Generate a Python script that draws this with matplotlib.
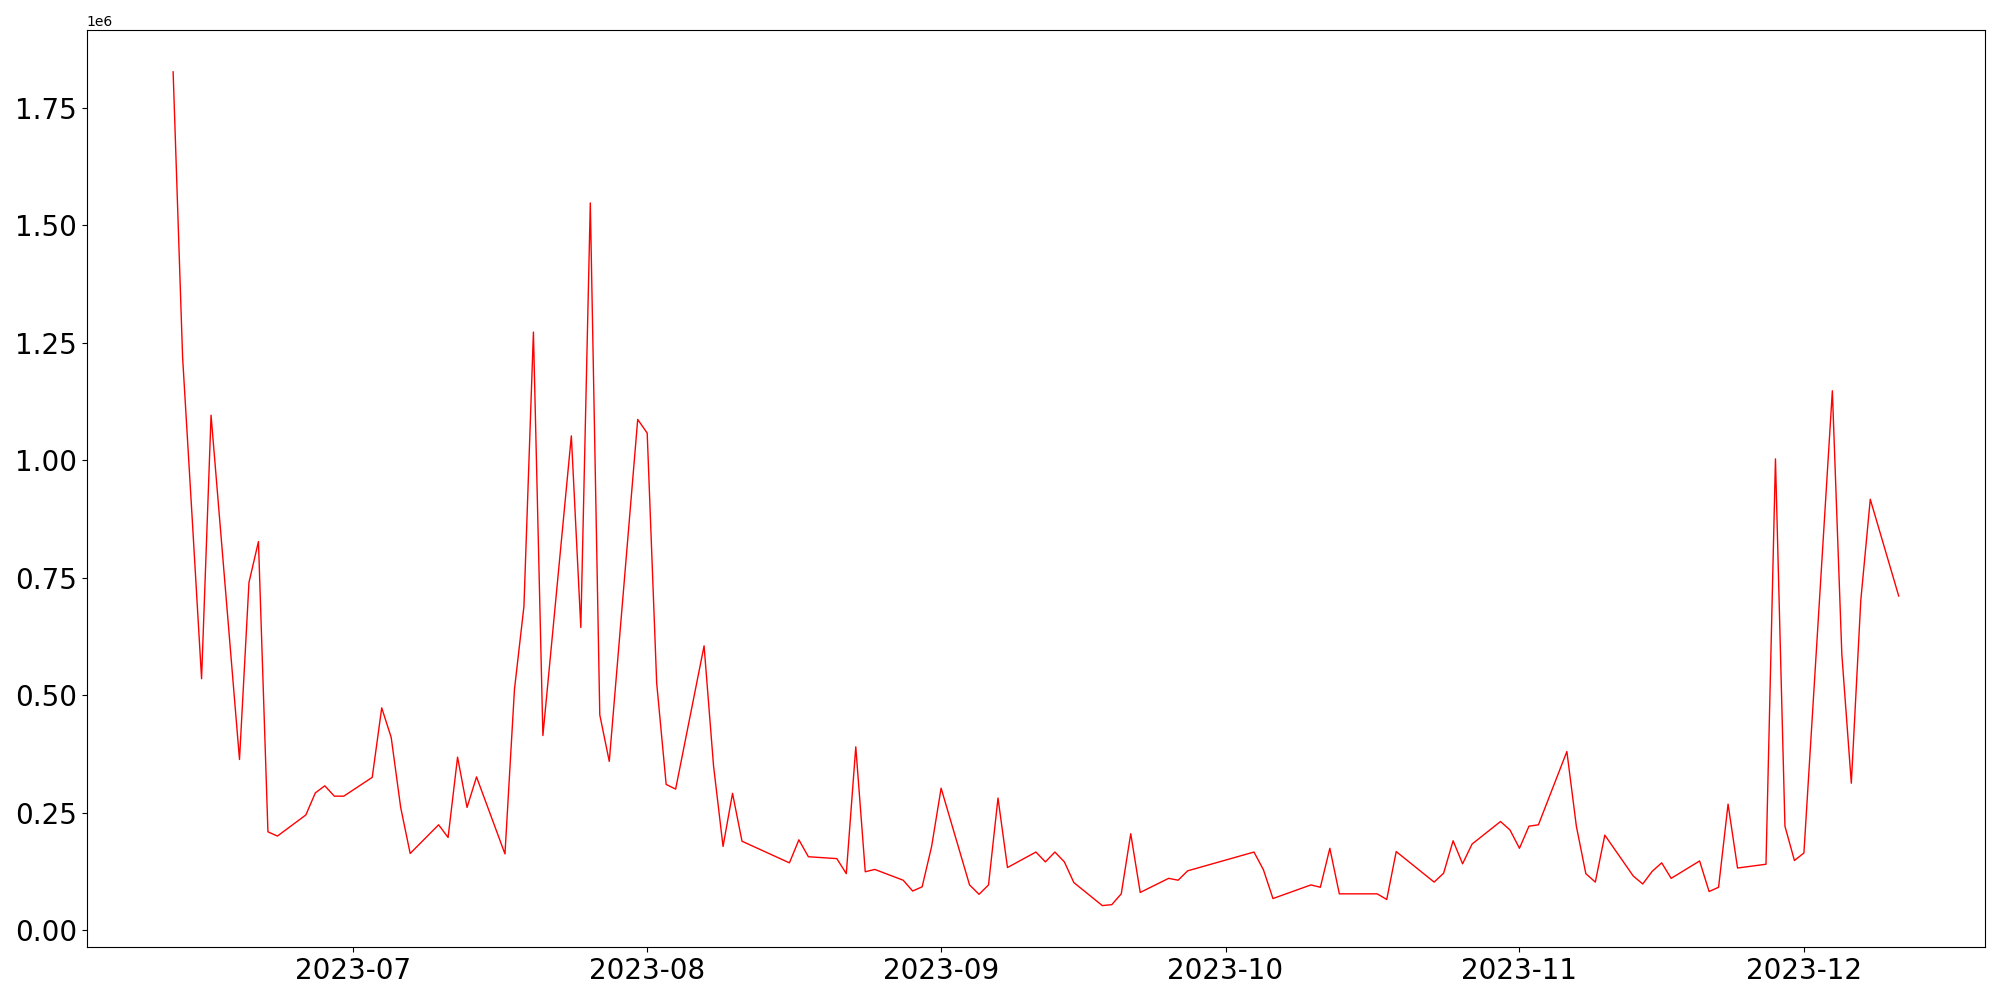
import pandas as pd
import matplotlib
matplotlib.use('Agg')
import matplotlib.pyplot as plt

# trading days (weekdays) and daily values
dates = ['2023-06-12', '2023-06-13', '2023-06-14', '2023-06-15', '2023-06-16',
         '2023-06-19', '2023-06-20', '2023-06-21', '2023-06-22', '2023-06-23',
         '2023-06-26', '2023-06-27', '2023-06-28', '2023-06-29', '2023-06-30',
         '2023-07-03', '2023-07-04', '2023-07-05', '2023-07-06', '2023-07-07',
         '2023-07-10', '2023-07-11', '2023-07-12', '2023-07-13', '2023-07-14',
         '2023-07-17', '2023-07-18', '2023-07-19', '2023-07-20', '2023-07-21',
         '2023-07-24', '2023-07-25', '2023-07-26', '2023-07-27', '2023-07-28',
         '2023-07-31', '2023-08-01', '2023-08-02', '2023-08-03', '2023-08-04',
         '2023-08-07', '2023-08-08', '2023-08-09', '2023-08-10', '2023-08-11',
         '2023-08-16', '2023-08-17', '2023-08-18',
         '2023-08-21', '2023-08-22', '2023-08-23', '2023-08-24', '2023-08-25',
         '2023-08-28', '2023-08-29', '2023-08-30', '2023-08-31', '2023-09-01',
         '2023-09-04', '2023-09-05', '2023-09-06', '2023-09-07', '2023-09-08',
         '2023-09-11', '2023-09-12', '2023-09-13', '2023-09-14', '2023-09-15',
         '2023-09-18', '2023-09-19', '2023-09-20', '2023-09-21', '2023-09-22',
         '2023-09-25', '2023-09-26', '2023-09-27',
         '2023-10-04', '2023-10-05', '2023-10-06',
         '2023-10-10', '2023-10-11', '2023-10-12', '2023-10-13',
         '2023-10-16', '2023-10-17', '2023-10-18', '2023-10-19',
         '2023-10-23', '2023-10-24', '2023-10-25', '2023-10-26', '2023-10-27',
         '2023-10-30', '2023-10-31', '2023-11-01', '2023-11-02', '2023-11-03',
         '2023-11-06', '2023-11-07', '2023-11-08', '2023-11-09', '2023-11-10',
         '2023-11-13', '2023-11-14', '2023-11-15', '2023-11-16', '2023-11-17',
         '2023-11-20', '2023-11-21', '2023-11-22', '2023-11-23', '2023-11-24',
         '2023-11-27', '2023-11-28', '2023-11-29', '2023-11-30', '2023-12-01',
         '2023-12-04', '2023-12-05', '2023-12-06', '2023-12-07', '2023-12-08',
         '2023-12-11']

# values in millions
values_m = [1.827, 1.219, 0.880, 0.535, 1.096,
            0.363, 0.740, 0.827, 0.209, 0.200,
            0.245, 0.292, 0.307, 0.285, 0.285,
            0.325, 0.473, 0.410, 0.261, 0.163,
            0.224, 0.197, 0.368, 0.261, 0.326,
            0.162, 0.512, 0.689, 1.273, 0.414,
            1.052, 0.644, 1.548, 0.458, 0.359,
            1.087, 1.058, 0.526, 0.310, 0.300,
            0.605, 0.349, 0.178, 0.291, 0.189,
            0.143, 0.192, 0.156,
            0.152, 0.120, 0.390, 0.124, 0.129,
            0.106, 0.083, 0.092, 0.178, 0.302,
            0.096, 0.076, 0.096, 0.281, 0.133,
            0.166, 0.145, 0.166, 0.145, 0.101,
            0.052, 0.054, 0.077, 0.205, 0.080,
            0.110, 0.106, 0.126,
            0.166, 0.128, 0.067,
            0.096, 0.091, 0.174, 0.077,
            0.077, 0.077, 0.065, 0.167,
            0.102, 0.121, 0.190, 0.141, 0.183,
            0.231, 0.213, 0.174, 0.221, 0.224,
            0.380, 0.221, 0.120, 0.102, 0.202,
            0.115, 0.098, 0.125, 0.143, 0.110,
            0.147, 0.082, 0.091, 0.268, 0.132,
            0.140, 1.003, 0.221, 0.148, 0.164,
            1.148, 0.587, 0.3125, 0.702, 0.917,
            0.711]

x = pd.to_datetime(dates)
y = [v * 1e6 for v in values_m]

plt.figure(figsize=(20, 10), dpi=100)
plt.plot(x, y, 'r-', linewidth=1)
plt.xticks(fontsize=20)
plt.yticks(fontsize=20)
plt.tight_layout()
plt.savefig('out.png')
